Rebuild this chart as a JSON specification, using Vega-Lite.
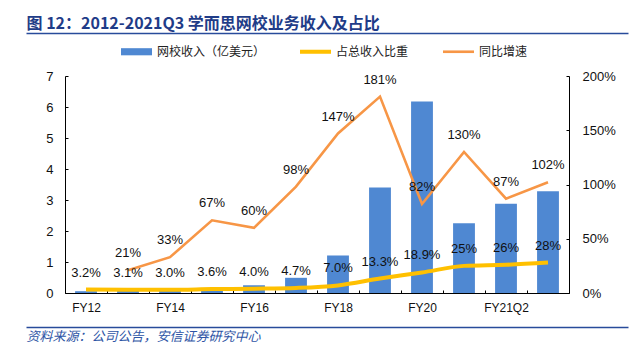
{
  "$schema": "https://vega.github.io/schema/vega-lite/v6.json",
  "width": 602,
  "height": 217,
  "autosize": {"type": "none"},
  "padding": {"left": 26, "top": 76, "right": 9, "bottom": 62},
  "background": "white",
  "config": {
    "view": {"stroke": null},
    "axis": {"labelFont": "Liberation Sans", "labelColor": "#111", "domainColor": "#000", "tickColor": "#000", "grid": false, "title": null}
  },
  "data": {
    "values": [
      {"cat": "FY12", "rev": 0.058, "share": 3.2, "shareLabel": "3.2%", "growth": null, "growthLabel": ""},
      {"cat": "FY13", "rev": 0.07, "share": 3.1, "shareLabel": "3.1%", "growth": 21, "growthLabel": "21%"},
      {"cat": "FY14", "rev": 0.094, "share": 3.0, "shareLabel": "3.0%", "growth": 33, "growthLabel": "33%"},
      {"cat": "FY15", "rev": 0.156, "share": 3.6, "shareLabel": "3.6%", "growth": 67, "growthLabel": "67%"},
      {"cat": "FY16", "rev": 0.25, "share": 4.0, "shareLabel": "4.0%", "growth": 60, "growthLabel": "60%"},
      {"cat": "FY17", "rev": 0.49, "share": 4.7, "shareLabel": "4.7%", "growth": 98, "growthLabel": "98%"},
      {"cat": "FY18", "rev": 1.21, "share": 7.0, "shareLabel": "7.0%", "growth": 147, "growthLabel": "147%"},
      {"cat": "FY19", "rev": 3.40, "share": 13.3, "shareLabel": "13.3%", "growth": 181, "growthLabel": "181%"},
      {"cat": "FY20", "rev": 6.18, "share": 18.9, "shareLabel": "18.9%", "growth": 82, "growthLabel": "82%"},
      {"cat": "FY21Q1", "rev": 2.25, "share": 25, "shareLabel": "25%", "growth": 130, "growthLabel": "130%"},
      {"cat": "FY21Q2", "rev": 2.88, "share": 26, "shareLabel": "26%", "growth": 87, "growthLabel": "87%"},
      {"cat": "FY21Q3", "rev": 3.28, "share": 28, "shareLabel": "28%", "growth": 102, "growthLabel": "102%"}
    ]
  },
  "layer": [
    {
      "layer": [
        {
          "mark": {"type": "bar", "width": {"band": 0.52}},
          "encoding": {
            "x": {
              "field": "cat", "type": "ordinal",
              "scale": {"domain": ["FY12","FY13","FY14","FY15","FY16","FY17","FY18","FY19","FY20","FY21Q1","FY21Q2","FY21Q3"], "range": [39, 543], "paddingInner": 0, "paddingOuter": 0},
              "axis": {"orient": "bottom", "tickBand": "extent", "tickSize": -3, "labelPadding": 12, "labelAngle": 0, "labelFontSize": 12, "labelExpr": "indexof(['FY12','FY14','FY16','FY18','FY20','FY21Q2'], datum.value) >= 0 ? datum.label : ''"}
            },
            "y": {
              "field": "rev", "type": "quantitative",
              "scale": {"domain": [0, 7], "nice": false},
              "axis": {"orient": "left", "offset": -39, "values": [0,1,2,3,4,5,6,7], "tickSize": -3, "labelPadding": 15, "labelFontSize": 13}
            },
            "color": {
              "datum": "网校收入（亿美元）",
              "scale": {"domain": ["网校收入（亿美元）", "占总收入比重", "同比增速"], "range": ["#4F88D2", "#FFC000", "#F79646"]},
              "legend": {
                "orient": "none", "legendX": 95, "legendY": -40, "direction": "horizontal", "title": null,
                "labelFont": "Noto Sans CJK SC", "labelFontSize": 12, "labelColor": "#222",
                "symbolSize": 961, "symbolType": "M-1,-0.2H1V0.2H-1Z", "columnPadding": 34, "labelOffset": 5, "padding": 0, "symbolStrokeWidth": 0,
                "encode": {
                  "symbols": {
                    "update": {
                      "shape": {"signal": "datum.value === '网校收入（亿美元）' ? 'M-1,-0.23H1V0.23H-1Z' : datum.value === '占总收入比重' ? 'M-1,-0.13H1V0.13H-1Z' : 'M-1,-0.085H1V0.085H-1Z'"},
                      "fill": {"signal": "datum.value === '网校收入（亿美元）' ? '#4F88D2' : datum.value === '占总收入比重' ? '#FFC000' : '#F79646'"},
                      "stroke": {"value": "transparent"},
                      "opacity": {"value": 1},
                      "fillOpacity": {"value": 1}
                    }
                  }
                }
              }
            }
          }
        },
        {
          "encoding": {
            "x": {"field": "cat", "type": "ordinal"}
          },
          "layer": [
            {
              "mark": {"type": "line", "strokeWidth": 4, "interpolate": "monotone"},
              "encoding": {
                "y": {
                  "field": "share", "type": "quantitative",
                  "scale": {"domain": [0, 200], "nice": false},
                  "axis": {"orient": "right", "offset": -59, "values": [0,50,100,150,200], "tickSize": -3, "labelPadding": 16, "labelFontSize": 13, "labelExpr": "datum.value + '%'"}
                },
                "color": {"datum": "占总收入比重"}
              }
            },
            {
              "transform": [{"filter": "datum.growth != null"}],
              "mark": {"type": "line", "strokeWidth": 2.6},
              "encoding": {
                "y": {"field": "growth", "type": "quantitative"},
                "color": {"datum": "同比增速"}
              }
            },
            {
              "mark": {"type": "text", "dy": -17, "fontSize": 13, "font": "Liberation Sans", "color": "#111"},
              "encoding": {
                "y": {"field": "share", "type": "quantitative"},
                "text": {"field": "shareLabel"}
              }
            },
            {
              "transform": [{"filter": "datum.growth != null"}],
              "mark": {"type": "text", "dy": -17, "fontSize": 13, "font": "Liberation Sans", "color": "#111"},
              "encoding": {
                "y": {"field": "growth", "type": "quantitative"},
                "text": {"field": "growthLabel"}
              }
            }
          ]
        }
      ],
      "resolve": {"scale": {"y": "independent"}, "axis": {"y": "independent"}}
    },
    {
      "mark": {"type": "point", "opacity": 0},
      "encoding": {
        "x": {
          "datum": 0.5, "type": "quantitative",
          "scale": {"domain": [0, 1]},
          "axis": {"orient": "top", "offset": 43, "domain": true, "domainColor": "#284B9B", "domainWidth": 1.5, "ticks": false, "labels": false, "grid": false,
            "title": "图 12：2012-2021Q3 学而思网校业务收入及占比", "titleAnchor": "start", "titleAlign": "left", "titleFont": "Noto Sans CJK SC", "titleFontSize": 16, "titleFontWeight": "bold", "titleColor": "#1F3C88", "titlePadding": 2}
        }
      }
    },
    {
      "mark": {"type": "point", "opacity": 0},
      "encoding": {
        "x": {
          "datum": 0.5, "type": "quantitative",
          "scale": {"domain": [0, 1]},
          "axis": {"orient": "bottom", "offset": 34, "domain": true, "domainColor": "#284B9B", "domainWidth": 1.5, "ticks": false, "labels": false, "grid": false,
            "title": "资料来源：公司公告，安信证券研究中心", "titleAnchor": "start", "titleAlign": "left", "titleFont": "Noto Sans CJK SC", "titleFontSize": 13, "titleFontStyle": "italic", "titleFontWeight": "normal", "titleColor": "#2E55A5", "titlePadding": 3}
        }
      }
    }
  ],
  "resolve": {"scale": {"x": "independent"}, "axis": {"x": "independent"}}
}
